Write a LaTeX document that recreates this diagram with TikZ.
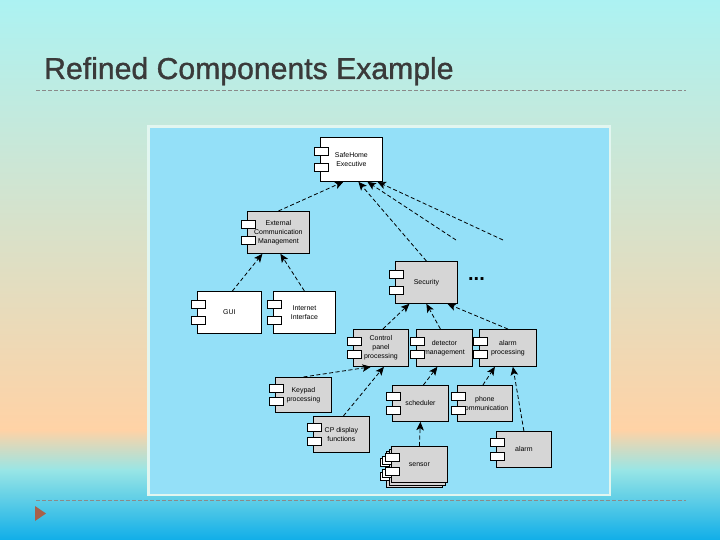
\documentclass[tikz,border=0pt]{standalone}
\usepackage{fontspec}
\setmainfont{Liberation Sans}
\newfontfamily\titlefont[FakeBold=1.2]{Liberation Sans}
\usetikzlibrary{arrows.meta,calc}
\definecolor{compgray}{HTML}{D6D6D6}
\definecolor{panelblue}{HTML}{94E0F8}
\definecolor{panelrim}{HTML}{E2F6F0}
\definecolor{titlegray}{HTML}{3A3A3A}
\definecolor{rulegray}{HTML}{8A8A8A}
\definecolor{bullet}{HTML}{A8604A}
\tikzset{
  % component box, placed by its upper left corner
  comp/.style={draw=black,line width=.8bp,fill=compgray,anchor=north west,
    align=center,inner sep=1bp,font=\fontsize{7}{9}\selectfont},
  % small plug on the left side of a component
  port/.style={draw=black,line width=.7bp,fill=white},
  % dependency arrow
  dep/.style={draw=black,line width=.8bp,dash pattern=on 4bp off 2.5bp,
    -{Stealth[length=8.5bp,width=7.5bp,inset=2bp]}},
  rule/.style={draw=rulegray,line width=.8bp,dash pattern=on 4bp off 2bp},
}
% the two plugs of a component
\newcommand{\ports}[1]{%
  \draw[port] ($(#1.north west)!0.32!(#1.south west)$) ++(-6,-4) rectangle ++(14,8);
  \draw[port] ($(#1.north west)!0.68!(#1.south west)$) ++(-6,-4) rectangle ++(14,8);
}
\begin{document}
\begin{tikzpicture}[x=1bp,y=-1bp]
\useasboundingbox (0,0) rectangle (720,540);
% slide background
\shade[top color=cyan!25!white!90!teal,middle color=green!10!yellow!15!white!90!gray,bottom color=orange!35!white] (0,0) rectangle (720,430);
\shade[top color=orange!35!white,bottom color=cyan!50!teal!40!white] (0,430) rectangle (720,470);
\fill[bottom color={rgb,255:red,16;green,174;blue,232},top color=cyan!50!teal!40!white] (0,469.5) rectangle (720,540);

\node[anchor=base west,inner sep=0,text=titlegray,font=\titlefont\fontsize{30.3}{30}\selectfont] (title) at (44,79) {Refined Components Example};
\draw[rule] (36,90) -- (686,90);
\draw[rule] (36,500) -- (686,500);
\fill[bullet] (35,506) -- (46,513.5) -- (35,521) -- cycle;

% diagram panel
\draw[fill=panelblue,draw=panelrim,line width=2.5bp] (148.5,126.5) rectangle (610,495);

\node[comp,fill=white,minimum width=62bp,minimum height=44bp] (safe) at (320,137) {SafeHome\\Executive};
\ports{safe}
\node[comp,minimum width=62bp,minimum height=42bp] (ecm) at (247,211) {External\\Communication\\Management};
\ports{ecm}
\node[comp,fill=white,minimum width=64bp,minimum height=42bp] (gui) at (197,291) {GUI};
\ports{gui}
\node[comp,fill=white,minimum width=62bp,minimum height=42bp] (inet) at (273,291) {Internet\\Interface};
\ports{inet}
\node[comp,minimum width=62bp,minimum height=42bp] (sec) at (395,261) {Security};
\ports{sec}
\node[inner sep=0,font=\fontsize{20}{20}\selectfont\bfseries] (more) at (476.5,279) {...};

\node[comp,minimum width=55bp,minimum height=37bp] (cpp) at (353,329) {Control\\panel\\processing};
\ports{cpp}
\node[comp,minimum width=56bp,minimum height=37bp] (det) at (416,329) {detector\\management};
\ports{det}
\node[comp,minimum width=57bp,minimum height=37bp] (alp) at (479,329) {alarm\\processing};
\ports{alp}

\node[comp,minimum width=56bp,minimum height=35bp] (key) at (275,377) {Keypad\\processing};
\ports{key}
\node[comp,minimum width=56bp,minimum height=36bp] (cpd) at (313,416) {CP display\\functions};
\ports{cpd}
\node[comp,minimum width=56bp,minimum height=36bp] (sch) at (392,385) {scheduler};
\ports{sch}
\node[comp,minimum width=55bp,minimum height=36bp] (phone) at (457,385) {phone\\communication};
\ports{phone}
\node[comp,minimum width=55bp,minimum height=36bp] (alarm) at (496,431) {alarm};
\ports{alarm}
% several sensors, stacked
\node[comp,minimum width=56bp,minimum height=36bp] (sensorc) at (386,451) {};
\ports{sensorc}
\node[comp,minimum width=56bp,minimum height=36bp] (sensorb) at (388.5,448.5) {};
\ports{sensorb}
\node[comp,minimum width=56bp,minimum height=36bp] (sensor) at (391,446) {sensor};
\ports{sensor}

% dependencies
\coordinate (moreA) at (456,240);
\coordinate (moreB) at (503,240);
\draw[dep] (ecm.north) -- ([xshift=-8bp]safe.south);
\draw[dep] (sec.north) -- ([xshift=7bp]safe.south);
\draw[dep] (moreA) -- ([xshift=16bp]safe.south);
\draw[dep] (moreB) -- ([xshift=26bp]safe.south);
\draw[dep] ([xshift=3bp]gui.north) -- ([xshift=-16bp]ecm.south);
\draw[dep] (inet.north) -- ([xshift=2bp]ecm.south);
\draw[dep] ([xshift=2bp]cpp.north) -- ([xshift=-17bp]sec.south);
\draw[dep] ([xshift=-4bp]det.north) -- (sec.south);
\draw[dep] (alp.north) -- ([xshift=21bp]sec.south);
\draw[dep] (key.north) -- ([xshift=-10bp]cpp.south);
\draw[dep] ([xshift=2bp]cpd.north) -- ([xshift=3bp]cpp.south);
\draw[dep] ([xshift=3bp]sch.north) -- ([xshift=-7bp]det.south);
\draw[dep] ([xshift=-2bp]phone.north) -- ([xshift=-13bp]alp.south);
\draw[dep] (alarm.north) -- ([xshift=5bp]alp.south);
\draw[dep] (sensor.north) -- (sch.south);
\end{tikzpicture}
\end{document}
